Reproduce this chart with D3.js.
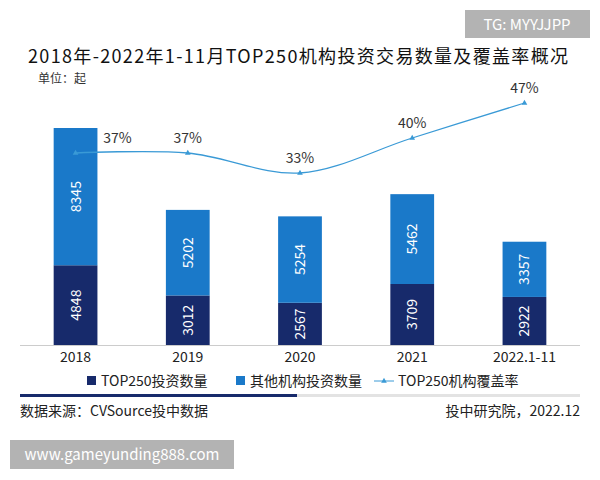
<!DOCTYPE html>
<html><head><meta charset="utf-8">
<script src="https://cdn.jsdelivr.net/npm/d3@7"></script>
<style>body{margin:0;background:#fff}svg{font-family:"Noto Sans CJK SC","Noto Sans",sans-serif}</style>
</head><body><div id="chart"></div>
<script>
const years = ['2018','2019','2020','2021','2022.1-11']
const top250 = [4848,3012,2567,3709,2922]
const others = [8345,5202,5254,5462,3357]
const coverage = [37,37,33,40,47]

const svg = d3.select('#chart').append('svg').attr('width',600).attr('height',480)

svg.append('rect').attr('x',465).attr('y',10).attr('width',125).attr('height',28).attr('fill','#b3b3b3')
svg.append('text').attr('x',527).attr('y',30).attr('text-anchor','middle').attr('fill','#fff').attr('font-size',15).text('TG: MYYJJPP')

svg.append('text').attr('x',298).attr('y',63).attr('text-anchor','middle').attr('font-size',18).attr('font-weight',400).attr('fill','#111')
  .attr('textLength',540).text('2018年-2022年1-11月TOP250机构投资交易数量及覆盖率概况')
svg.append('text').attr('x',38).attr('y',83).attr('font-size',12).attr('fill','#333').text('单位：起')

const x = d3.scaleBand().domain(years).range([20,580]).paddingInner(0.61).paddingOuter(0.3)
const y = d3.scaleLinear().domain([0,13193]).range([345,128])
const yr = d3.scaleLinear().domain([33,47]).range([173,103])

svg.append('line').attr('x1',20).attr('x2',580).attr('y1',345.5).attr('y2',345.5).attr('stroke','#ccc')

const g = svg.append('g')
years.forEach((yrName,i)=>{
  const bx = x(yrName), bw = x.bandwidth()
  g.append('rect').attr('x',bx).attr('width',bw).attr('y',y(top250[i])).attr('height',345-y(top250[i])).attr('fill','#172a6b')
  g.append('rect').attr('x',bx).attr('width',bw).attr('y',y(top250[i]+others[i])).attr('height',y(top250[i])-y(top250[i]+others[i])).attr('fill','#1a79c9')
  const cx = bx+bw/2
  const lab = (v,yc)=>g.append('text').attr('transform',`translate(${cx+5},${yc}) rotate(-90)`).attr('text-anchor','middle')
    .attr('fill','#fff').attr('font-size',14).text(v)
  lab(top250[i],(345+y(top250[i]))/2)
  lab(others[i],(y(top250[i])+y(top250[i]+others[i]))/2)
  svg.append('text').attr('x',cx).attr('y',362).attr('text-anchor','middle').attr('font-size',14).attr('fill','#222').text(yrName)
})

const pts = years.map((d,i)=>[x(d)+x.bandwidth()/2, yr(coverage[i])])
svg.append('path').attr('d',d3.line().curve(d3.curveCatmullRom)(pts)).attr('fill','none').attr('stroke','#3a9ad6').attr('stroke-width',1.3)
const tri = d3.symbol().type(d3.symbolTriangle).size(14)
pts.forEach((p,i)=>{
  svg.append('path').attr('d',tri()).attr('transform',`translate(${p[0]},${p[1]})`).attr('fill','#3a9ad6')
  svg.append('text').attr('x',i===0?p[0]+42:p[0]).attr('y',p[1]-10).attr('text-anchor','middle').attr('font-size',14).attr('fill','#333').text(coverage[i]+'%')
})

// legend
const leg = svg.append('g').attr('font-size',14).attr('fill','#222')
leg.append('rect').attr('x',87).attr('y',376).attr('width',9).attr('height',9).attr('fill','#172a6b')
leg.append('text').attr('x',101).attr('y',386).text('TOP250投资数量')
leg.append('rect').attr('x',236).attr('y',376).attr('width',9).attr('height',9).attr('fill','#1a79c9')
leg.append('text').attr('x',250).attr('y',386).text('其他机构投资数量')
leg.append('line').attr('x1',374).attr('x2',394).attr('y1',381).attr('y2',381).attr('stroke','#3a9ad6')
leg.append('path').attr('d',tri()).attr('transform','translate(384,381)').attr('fill','#3a9ad6')
leg.append('text').attr('x',398).attr('y',386).text('TOP250机构覆盖率')

svg.append('rect').attr('x',20).attr('y',394).attr('width',560).attr('height',3).attr('fill','#e3e3e3')
svg.append('rect').attr('x',20).attr('y',394).attr('width',277).attr('height',3).attr('fill','#172a6b')

svg.append('text').attr('x',20).attr('y',416).attr('font-size',14).attr('fill','#222').text('数据来源：CVSource投中数据')
svg.append('text').attr('x',580).attr('y',416).attr('text-anchor','end').attr('font-size',14).attr('fill','#222').text('投中研究院，2022.12')

svg.append('rect').attr('x',10).attr('y',440).attr('width',224).attr('height',29).attr('fill','#b3b3b3')
svg.append('text').attr('x',122).attr('y',460).attr('text-anchor','middle').attr('fill','#fff').attr('font-size',15).text('www.gameyunding888.com')
</script></body></html>
